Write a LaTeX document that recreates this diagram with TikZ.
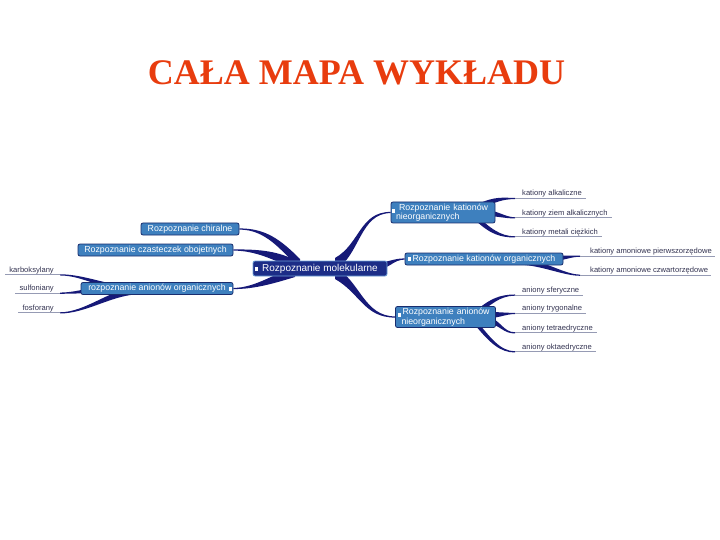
\documentclass[tikz,border=0pt]{standalone}
\usepackage{fontspec}
\setmainfont{Liberation Serif}
\newfontfamily\mmsans{Liberation Sans}
\usetikzlibrary{calc,backgrounds}
\definecolor{titlered}{RGB}{232,60,14}
\definecolor{rootfill}{RGB}{28,45,135}
\definecolor{rootdraw}{RGB}{110,160,215}
\definecolor{boxfill}{RGB}{62,128,190}
\definecolor{boxdraw}{RGB}{25,45,110}
\definecolor{conncol}{RGB}{22,25,120}
\definecolor{leaftext}{RGB}{50,50,80}
\definecolor{ulinecol}{RGB}{150,155,180}
\tikzset{
  rootbox/.style={draw=rootdraw, fill=rootfill, line width=0.8pt, rounded corners=2pt,
    text=white, font=\mmsans\fontsize{10}{11}\selectfont, inner xsep=3pt, inner ysep=0pt,
    minimum width=134pt, minimum height=15pt},
  subbox/.style={draw=boxdraw, fill=boxfill, line width=0.8pt, rounded corners=2pt,
    text=white, font=\mmsans\fontsize{8.8}{9.6}\selectfont, inner xsep=3pt, inner ysep=0.5pt,
    minimum height=12pt},
  leaf/.style={font=\mmsans\fontsize{7.6}{8.5}\selectfont, text=leaftext, inner xsep=0pt, inner ysep=1pt},
  uline/.style={draw=ulinecol, line width=0.8pt},
  conn/.style={fill=conncol},
  marksq/.style={fill=white}
}
\newcommand{\mmbranch}[5]{%
  \fill[conn] ($(#1)+(0,#5)$) .. controls +(#3) and +(#4) .. ($(#2)+(0,0.6)$)
    -- ($(#2)+(0,-0.6)$) .. controls +(#4) and +(#3) .. ($(#1)+(0,-#5)$) -- cycle;}
\begin{document}
\begin{tikzpicture}[x=1pt,y=-1pt]
\useasboundingbox (0,0) rectangle (720,540);
% title
\node[font=\fontsize{36}{40}\selectfont\bfseries, text=titlered] (title) at (356.5,73) {CAŁA MAPA WYKŁADU};
% main nodes
\node[rootbox] (root) at (320,268.5) {Rozpoznanie molekularne};
\node[subbox, minimum width=98pt] (chir) at (190,229) {Rozpoznanie chiralne};
\node[subbox, minimum width=155pt] (oboj) at (155.5,250) {Rozpoznanie czasteczek obojetnych};
\node[subbox, minimum width=152pt] (anorg) at (157,288.5) {rozpoznanie anionów organicznych};
\node[subbox, text width=98pt, align=left, minimum height=21pt] (kn) at (443,212.5)
  {\hspace*{5pt}Rozpoznanie kationów\\\hspace*{2pt}nieorganicznych};
\node[subbox, minimum width=158pt] (ko) at (484,259) {Rozpoznanie kationów organicznych};
\node[subbox, text width=94pt, align=left, minimum height=21pt] (an) at (445.5,317)
  {\hspace*{4pt}Rozpoznanie anionów\\\hspace*{3pt}nieorganicznych};
% markers
\fill[marksq] ($(root.west)+(2,-2)$) rectangle ($(root.west)+(5,2.5)$);
\fill[marksq] ($(kn.west)+(1.5,-3)$) rectangle ($(kn.west)+(4.5,1)$);
\fill[marksq] ($(an.west)+(2.5,-4)$) rectangle ($(an.west)+(5.5,0)$);
\fill[marksq] ($(ko.west)+(3.5,-2)$) rectangle ($(ko.west)+(6.5,2)$);
\fill[marksq] ($(anorg.east)+(-4,-2)$) rectangle ($(anorg.east)+(-1,2)$);
% right leaves
\node[leaf, anchor=base west] (l1) at (522,195.7) {kationy alkaliczne};
\node[leaf, anchor=base west] (l2) at (522,215.1) {kationy ziem alkalicznych};
\node[leaf, anchor=base west] (l3) at (522,234.1) {kationy metali ciężkich};
\node[leaf, anchor=base west] (l4) at (590,253.4) {kationy amoniowe pierwszorzędowe};
\node[leaf, anchor=base west] (l5) at (590,272.4) {kationy amoniowe czwartorzędowe};
\node[leaf, anchor=base west] (l6) at (522,292.3) {aniony sferyczne};
\node[leaf, anchor=base west] (l7) at (522,310.7) {aniony trygonalne};
\node[leaf, anchor=base west] (l8) at (522,330.1) {aniony tetraedryczne};
\node[leaf, anchor=base west] (l9) at (522,349.1) {aniony oktaedryczne};
\foreach \n in {l1,l2,l3,l6,l7,l8,l9}{
  \coordinate (\n e) at ($(\n.south west)+(-7,0)$);
  \draw[uline] (\n e) -- ($(\n.south east)+(4,0)$);
}
\foreach \n in {l4,l5}{
  \coordinate (\n e) at ($(\n.south west)+(-10,0)$);
  \draw[uline] (\n e) -- ($(\n.south east)+(3,0)$);
}
% left leaves
\node[leaf, anchor=base east] (k1) at (54,272.1) {karboksylany};
\node[leaf, anchor=base east] (k2) at (54,290.4) {sulfoniany};
\node[leaf, anchor=base east] (k3) at (54,310.1) {fosforany};
\foreach \n in {k1,k2,k3}{
  \coordinate (\n e) at ($(\n.south east)+(6,0)$);
  \draw[uline] ($(\n.south west)+(-4,0)$) -- (\n e);
}
% branch start points
\coordinate (sKN) at ($(root.center)+(15,-4.5)$);
\coordinate (sKO) at ($(root.center)+(55,-2.5)$);
\coordinate (sAN) at ($(root.center)+(15,4.5)$);
\coordinate (sCH) at ($(root.center)+(-20,-4.5)$);
\coordinate (sOB) at ($(root.center)+(-25,-3.5)$);
\coordinate (sAO) at ($(root.center)+(-25,3.5)$);
\coordinate (s1) at ($(kn.center)+(35,-5.5)$);
\coordinate (s2) at ($(kn.center)+(42,0.5)$);
\coordinate (s3) at ($(kn.center)+(32,4.5)$);
\coordinate (s4) at ($(ko.center)+(71,-1)$);
\coordinate (s5) at ($(ko.center)+(41,3)$);
\coordinate (s6) at ($(an.center)+(32.5,-5)$);
\coordinate (s7) at ($(an.center)+(42.5,-2)$);
\coordinate (s8) at ($(an.center)+(42.5,3)$);
\coordinate (s9) at ($(an.center)+(29.5,5)$);
\coordinate (t1) at ($(anorg.center)+(-22,1.5)$);
\coordinate (t2) at ($(anorg.center)+(-57,2)$);
\coordinate (t3) at ($(anorg.center)+(-22,2.5)$);
\begin{scope}[on background layer]
  \mmbranch{sKN}{kn.west}{25,-14}{-31,0}{6}
  \mmbranch{sKO}{ko.west}{15,0}{-12,0}{3.5}
  \mmbranch{sAN}{an.west}{25,14}{-31,0}{6}
  \mmbranch{sCH}{chir.east}{-20,-20}{26,0}{5}
  \mmbranch{sOB}{oboj.east}{-20,-10}{22,0}{5}
  \mmbranch{sAO}{anorg.east}{-20,6}{22,0}{5}
  \mmbranch{s1}{l1e}{17,-8}{-12,0}{3}
  \mmbranch{s2}{l2e}{12,0}{-10,0}{3}
  \mmbranch{s3}{l3e}{15,14}{-15,0}{3}
  \mmbranch{s4}{l4e}{10,0}{-10,0}{2.5}
  \mmbranch{s5}{l5e}{20,2}{-15,0}{3}
  \mmbranch{s6}{l6e}{12,-10}{-15,0}{3}
  \mmbranch{s7}{l7e}{12,0}{-10,0}{3}
  \mmbranch{s8}{l8e}{12,2}{-12,0}{3}
  \mmbranch{s9}{l9e}{15,18}{-15,0}{3}
  \mmbranch{t1}{k1e}{-25,0}{25,0}{3.5}
  \mmbranch{t2}{k2e}{-15,0}{15,0}{2.5}
  \mmbranch{t3}{k3e}{-25,2}{25,0}{3.5}
\end{scope}
\end{tikzpicture}
\end{document}
